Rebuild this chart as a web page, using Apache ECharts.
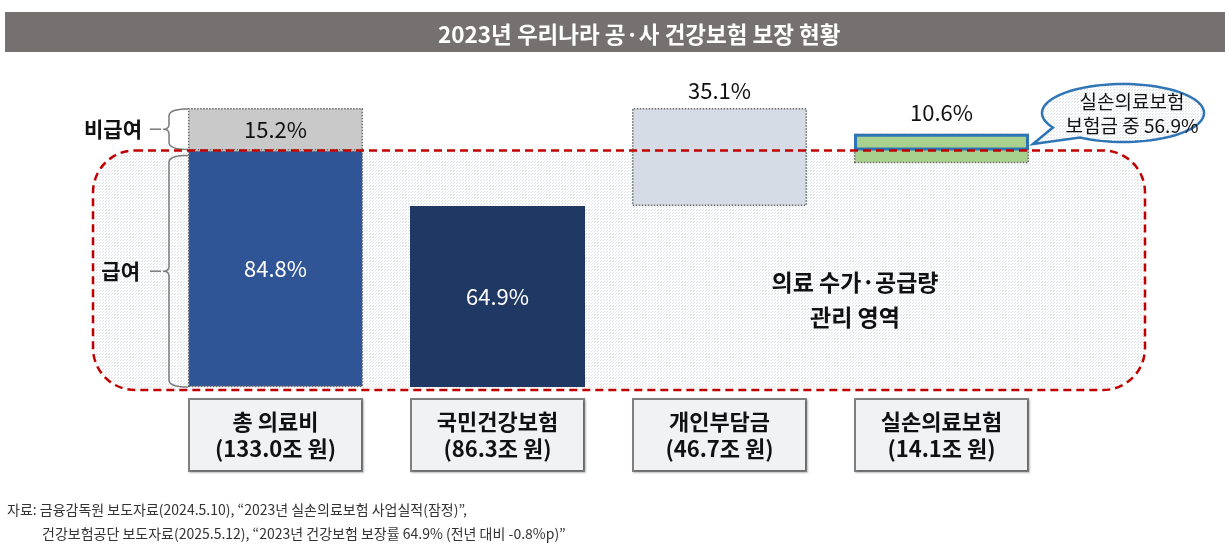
<!DOCTYPE html>
<html>
<head>
<meta charset="utf-8">
<script src="https://cdn.jsdelivr.net/npm/echarts@6/dist/echarts.min.js"></script>
<style>
  html, body { margin: 0; padding: 0; background: #fff; }
  #chart { width: 1229px; height: 546px; }
</style>
</head>
<body>
<div id="chart"></div>
<script>
const FONT = '"Noto Sans CJK KR", "Noto Sans", sans-serif';

// categories (x axis boxes)
const categories = ['총 의료비\n(133.0조 원)', '국민건강보험\n(86.3조 원)', '개인부담금\n(46.7조 원)', '실손의료보험\n(14.1조 원)'];
// share of total medical spending (%), stacked
const floatBase = [0, 0, 64.9, 80.2];
const mainShare = [84.8, 64.9, 35.1, 10.6];
const nonCovered = [15.2, '-', '-', '-'];
// part of 실손 benefits lying in the non-covered zone (56.9% of 10.6)
const innerBase = ['-', '-', '-', 84.8];
const innerShare = ['-', '-', '-', 6.0];
const mainColors = ['#2f5597', '#203864', '#d6dce5', '#a9d18e'];
const coveredLine = 84.8;

let myChart = echarts.init(document.getElementById('chart'));

// light dotted texture used in the shaded zone
let pat = document.createElement('canvas');
pat.width = 3; pat.height = 3;
let pctx = pat.getContext('2d');
pctx.fillStyle = '#ffffff';
pctx.fillRect(0, 0, 3, 3);
pctx.fillStyle = '#dde1e8';
pctx.fillRect(0, 0, 1, 1);
pctx.fillRect(1, 2, 1, 1);

const dotted = { borderType: 'dotted', borderColor: '#6b6b6b', borderWidth: 1.5 };

let option = {
  animation: false,
  title: {
    text: '2023년 우리나라 공·사 건강보험 보장 현황',
    left: 433,
    top: 18,
    textStyle: { color: '#fff', fontSize: 22.5, fontWeight: 'bold', fontFamily: FONT },
  },
  grid: {
    left: 164.5,
    right: 176.5,
    top: 108,
    bottom: 159,
  },
  xAxis: {
    type: 'category',
    data: categories,
    axisLine: { show: false },
    axisTick: { show: false },
    axisLabel: {
      interval: 0,
      margin: 13,
      color: '#111',
      fontFamily: FONT,
      fontSize: 22,
      fontWeight: 'bold',
      lineHeight: 27,
      width: 171,
      align: 'center',
      padding: [8, 0, 8, 0],
      backgroundColor: '#f1f2f4',
      borderColor: '#808080',
      borderWidth: 2,
      shadowColor: 'rgba(0,0,0,0.25)',
      shadowBlur: 2,
      shadowOffsetX: 1,
      shadowOffsetY: 1,
    },
  },
  yAxis: {
    type: 'value',
    min: 0,
    max: 100,
    show: false,
    splitLine: { show: false },
  },
  series: [
    {
      name: 'base',
      type: 'bar',
      stack: 'total',
      barWidth: 175,
      itemStyle: { color: 'transparent' },
      data: floatBase,
    },
    {
      name: 'main',
      type: 'bar',
      stack: 'total',
      barWidth: 175,
      data: mainShare.map((v, i) => ({
        value: v,
        itemStyle: Object.assign({ color: mainColors[i] }, i === 1 ? {} : dotted),
        label: i < 2
          ? { show: true, position: 'inside', color: '#fff' }
          : { show: true, position: 'top', color: '#111', distance: i === 2 ? 6 : 10 },
      })),
      label: {
        formatter: '{c}%',
        fontFamily: FONT,
        fontSize: 22,
      },
    },
    {
      name: 'nonCovered',
      type: 'bar',
      stack: 'total',
      barWidth: 175,
      itemStyle: Object.assign({ color: '#c9c9c9' }, dotted),
      label: {
        show: true,
        position: 'inside',
        formatter: '{c}%',
        color: '#111',
        fontFamily: FONT,
        fontSize: 22,
      },
      data: nonCovered,
    },
    {
      name: 'innerBase',
      type: 'bar',
      stack: 'inner',
      barWidth: 175,
      barGap: '-100%',
      itemStyle: { color: 'transparent' },
      data: innerBase,
    },
    {
      name: 'inner',
      type: 'bar',
      stack: 'inner',
      barWidth: 175,
      barGap: '-100%',
      z: 5,
      itemStyle: { color: 'transparent', borderColor: '#2e75b6', borderWidth: 3 },
      data: innerShare,
    },
  ],
};
myChart.setOption(option);

const yTop = myChart.convertToPixel({ yAxisIndex: 0 }, 100);
const yLine = myChart.convertToPixel({ yAxisIndex: 0 }, coveredLine);
const yZero = myChart.convertToPixel({ yAxisIndex: 0 }, 0);

// sample a quadratic curve into polyline points
function quad(p0, c, p1, pts) {
  for (let t = 0; t <= 1.0001; t += 0.125) {
    const u = 1 - t;
    pts.push([u * u * p0[0] + 2 * u * t * c[0] + t * t * p1[0], u * u * p0[1] + 2 * u * t * c[1] + t * t * p1[1]]);
  }
}
function brace(x, y1, y2) {
  const ym = (y1 + y2) / 2;
  const pts = [];
  quad([x + 19, y1], [x, y1], [x, y1 + 7], pts);
  quad([x, ym - 5], [x, ym], [x - 6, ym], pts);
  quad([x - 6, ym], [x, ym], [x, ym + 5], pts);
  quad([x, y2 - 7], [x, y2], [x + 19, y2], pts);
  return pts;
}

const bx = 169;
// speech bubble: ellipse plus a tail pointing at the 실손 bar
const cx = 1123, cy = 113, rx = 81, ry = 29;
const bubble = [[1033, 144]];
for (let d = 122; d >= 150 - 360; d -= 4) {
  const a = d * Math.PI / 180;
  bubble.push([cx + rx * Math.cos(a), cy + ry * Math.sin(a)]);
}
bubble.push([cx + rx * Math.cos(150 * Math.PI / 180), cy + ry * Math.sin(150 * Math.PI / 180)]);

const lineStyle = { fill: null, stroke: '#7a7a7a', lineWidth: 1.5 };

myChart.setOption({
  graphic: [
    {
      type: 'rect',
      z: -20,
      shape: { x: 5, y: 12, width: 1220, height: 40 },
      style: { fill: '#767171' },
    },
    {
      type: 'rect',
      z: -10,
      shape: { x: 93, y: yLine, width: 1052, height: yZero + 3 - yLine, r: 42 },
      style: { fill: { image: pat, repeat: 'repeat' } },
    },
    {
      type: 'rect',
      z: 100,
      shape: { x: 93, y: yLine, width: 1052, height: yZero + 3 - yLine, r: 42 },
      style: { fill: null, stroke: '#c00000', lineWidth: 2.5, lineDash: [8, 5] },
    },
    {
      type: 'polyline',
      z: 50,
      shape: { points: brace(bx, yTop + 1, yLine - 1) },
      style: lineStyle,
    },
    {
      type: 'polyline',
      z: 50,
      shape: { points: brace(bx, yLine + 5, yZero) },
      style: lineStyle,
    },
    {
      type: 'line',
      z: 50,
      shape: { x1: 150, y1: (yTop + yLine) / 2, x2: 161, y2: (yTop + yLine) / 2 },
      style: lineStyle,
    },
    {
      type: 'line',
      z: 50,
      shape: { x1: 150, y1: (yLine + 5 + yZero) / 2, x2: 161, y2: (yLine + 5 + yZero) / 2 },
      style: lineStyle,
    },
    {
      type: 'text',
      z: 50,
      style: {
        text: '비급여', x: 142, y: (yTop + yLine) / 2, align: 'right', verticalAlign: 'middle',
        font: 'bold 21px ' + FONT, fill: '#111',
      },
    },
    {
      type: 'text',
      z: 50,
      style: {
        text: '급여', x: 140, y: (yLine + 5 + yZero) / 2, align: 'right', verticalAlign: 'middle',
        font: 'bold 21px ' + FONT, fill: '#111',
      },
    },
    {
      type: 'text',
      z: 50,
      style: {
        text: '의료 수가·공급량\n관리 영역', x: 855, y: 300, align: 'center', verticalAlign: 'middle',
        font: 'bold 23px ' + FONT, lineHeight: 35, fill: '#111',
      },
    },
    {
      type: 'polygon',
      z: 60,
      shape: { points: bubble },
      style: { fill: { image: pat, repeat: 'repeat' }, stroke: '#2e75b6', lineWidth: 2.5 },
    },
    {
      type: 'text',
      z: 61,
      style: {
        text: '실손의료보험\n보험금 중 56.9%', x: 1132, y: 114, align: 'center', verticalAlign: 'middle',
        font: '19px ' + FONT, lineHeight: 24, fill: '#111',
      },
    },
    {
      type: 'text',
      z: 50,
      style: {
        text: '자료: 금융감독원 보도자료(2024.5.10), “2023년 실손의료보험 사업실적(잠정)”,',
        x: 7, y: 510, verticalAlign: 'middle', font: '14px ' + FONT, fill: '#333',
      },
    },
    {
      type: 'text',
      z: 50,
      style: {
        text: '건강보험공단 보도자료(2025.5.12), “2023년 건강보험 보장률 64.9% (전년 대비 -0.8%p)”',
        x: 42, y: 534, verticalAlign: 'middle', font: '14px ' + FONT, fill: '#333',
      },
    },
  ],
});
</script>
</body>
</html>
